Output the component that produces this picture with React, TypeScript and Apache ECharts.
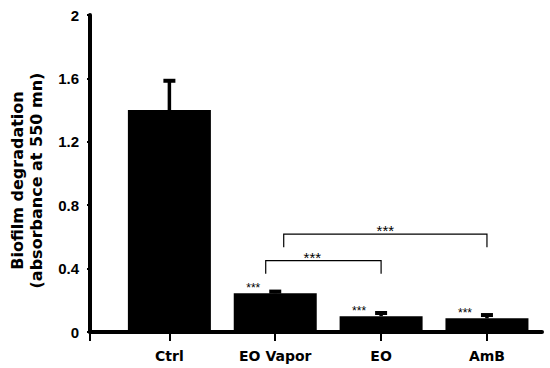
import React, { useEffect, useRef } from "react";
import * as echarts from "echarts";

const categories = ["Ctrl", "EO Vapor", "EO", "AmB"];
const means = [1.4, 0.245, 0.1, 0.086];
const errors = [0.185, 0.01, 0.02, 0.021];
const significance = ["", "***", "***", "***"];
const yTicks = [0, 0.4, 0.8, 1.2, 1.6, 2];
const bracketFrom = [1.91, 2.08];
const bracketTo = [3, 4];
const bracketHeight = [0.45, 0.617];
const bracketLabelAt = [2.35, 3.04];
const bracketLabels = ["***", "***"];

const positions = categories.map((_, i) => i + 1);

export default function App() {
  const ref = useRef<HTMLDivElement>(null);

  useEffect(() => {
    document.body.style.margin = "0";
    if (!ref.current) return;
    const chart = echarts.init(ref.current, undefined, { renderer: "svg" });
    const starFont = '15px "Liberation Sans", Arial, sans-serif';

    chart.setOption({
      animation: false,
      backgroundColor: "#ffffff",
      grid: { left: 89, right: 8, top: 15, bottom: 36, containLabel: false },
      xAxis: {
        type: "value",
        min: 0.25,
        max: 4.52,
        splitLine: { show: false },
        axisLine: { show: true, lineStyle: { color: "#000", width: 4 } },
        axisTick: {
          show: true,
          customValues: [0.25, ...positions],
          length: 9,
          lineStyle: { color: "#000", width: 2 },
        },
        axisLabel: {
          customValues: positions,
          formatter: (v: number) => categories[Math.round(v) - 1] ?? "",
          margin: 17,
          color: "#000",
          fontFamily: '"DejaVu Sans", sans-serif',
          fontWeight: "bold",
          fontSize: 14,
        },
      },
      yAxis: {
        type: "value",
        min: yTicks[0],
        max: yTicks[yTicks.length - 1],
        interval: 0.4,
        splitLine: { show: false },
        axisLine: { show: true, lineStyle: { color: "#000", width: 4 } },
        axisTick: { show: true, length: 3, lineStyle: { color: "#000", width: 2 } },
        axisLabel: {
          margin: 11,
          color: "#000",
          fontFamily: '"Liberation Sans", Arial, sans-serif',
          fontWeight: "bold",
          fontSize: 15,
          formatter: (v: number) => String(+v.toFixed(1)),
        },
        name: "Biofilm degradation\n(absorbance at 550 mn)",
        nameLocation: "middle",
        nameGap: 44,
        nameTextStyle: {
          color: "#000",
          fontFamily: '"DejaVu Sans", sans-serif',
          fontWeight: "bold",
          fontSize: 16,
          lineHeight: 19,
          padding: [0, 14, 0, 0],
        },
      },
      series: [
        {
          type: "bar",
          data: means.map((v, i) => [positions[i], v]),
          barWidth: 83,
          itemStyle: { color: "#000" },
          label: {
            show: true,
            position: "top",
            distance: 0,
            offset: [-22, 1],
            formatter: (p: any) => significance[p.dataIndex],
            color: "#000",
            font: starFont,
          },
        },
        {
          type: "custom",
          data: means.map((v, i) => [positions[i], v, errors[i]]),
          encode: { x: 0, y: 1 },
          z: 3,
          renderItem: (params: any, api: any) => {
            const x = api.value(0);
            const v = api.value(1);
            const e = api.value(2);
            const base = api.coord([x, v]);
            const top = api.coord([x, v + e]);
            return {
              type: "group",
              children: [
                {
                  type: "line",
                  shape: { x1: base[0], y1: base[1], x2: top[0], y2: top[1] },
                  style: { stroke: "#000", lineWidth: 3.5 },
                },
                {
                  type: "line",
                  shape: { x1: top[0] - 6, y1: top[1], x2: top[0] + 6, y2: top[1] },
                  style: { stroke: "#000", lineWidth: 4 },
                },
              ],
            };
          },
        },
        {
          type: "custom",
          data: bracketFrom.map((f, i) => [f, bracketTo[i], bracketHeight[i], bracketLabelAt[i]]),
          encode: { x: [0, 1], y: 2 },
          z: 3,
          renderItem: (params: any, api: any) => {
            const f = api.value(0);
            const t = api.value(1);
            const h = api.value(2);
            const lx = api.value(3);
            const pL = api.coord([f, h]);
            const pR = api.coord([t, h]);
            const lab = api.coord([lx, h]);
            return {
              type: "group",
              children: [
                {
                  type: "polyline",
                  shape: {
                    points: [
                      [pL[0], pL[1] + 13],
                      [pL[0], pL[1]],
                      [pR[0], pR[1]],
                      [pR[0], pR[1] + 13],
                    ],
                  },
                  style: { stroke: "#000", lineWidth: 1.2, fill: "none" },
                },
                {
                  type: "text",
                  x: lab[0],
                  y: lab[1] + 4,
                  style: {
                    text: bracketLabels[params.dataIndex],
                    align: "center",
                    verticalAlign: "bottom",
                    font: starFont,
                    fill: "#000",
                  },
                },
              ],
            };
          },
        },
      ],
    });

    return () => chart.dispose();
  }, []);

  return <div ref={ref} style={{ width: 550, height: 368 }} />;
}
